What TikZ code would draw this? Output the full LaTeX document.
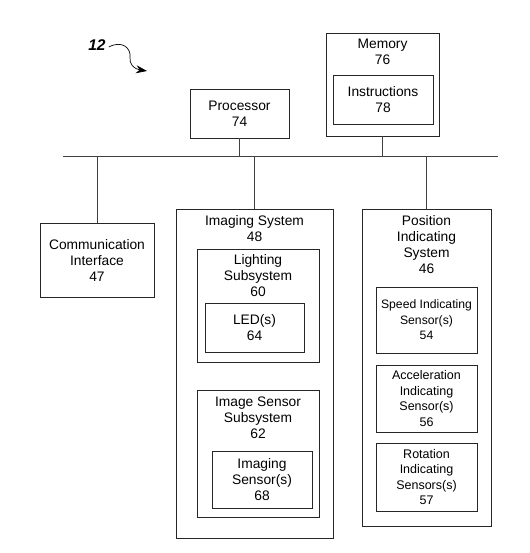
\documentclass[tikz,border=0pt]{standalone}
\usepackage{fontspec}
\setmainfont{Liberation Sans}
\usetikzlibrary{arrows.meta}
\begin{document}
\begin{tikzpicture}[x=1pt,y=-1pt,
  box/.style={draw=black!85,line width=0.8pt,rectangle,inner sep=0pt,align=center,
    font=\fontsize{13.8}{16}\selectfont},
  ttl/.style={inner sep=0pt,align=center,font=\fontsize{13.8}{16}\selectfont},
  sens/.style={font=\fontsize{12.5}{15.5}\selectfont},
  wire/.style={draw=black!75,line width=0.8pt}]
\useasboundingbox[fill=white] (0,0) rectangle (529,553);
% top
\node[inner sep=0pt,font=\fontsize{15.5}{16}\selectfont\bfseries\itshape] (n12) at (97,45) {12};
\coordinate (tip) at (147,71);
\draw[line width=0.7pt,-{Stealth[length=11pt,width=8pt]}] (n12.east) ++(3pt,-2pt) .. controls (122,40) and (131,48) .. (130,57) .. controls (129,64) and (134,69) .. (tip);
\node[box,minimum width=99pt,minimum height=49pt] (proc) at (239.5,113.5) {Processor\\74};
\node[box,minimum width=113pt,minimum height=103pt] (mem) at (382.5,84.5) {};
\node[ttl] (memt) at (382.5,52) {Memory\\76};
\node[box,minimum width=100pt,minimum height=49pt] (instr) at (383,99.5) {Instructions\\78};
% bus
\coordinate (busL) at (63,156);
\coordinate (busR) at (498,156);
\draw[wire] (busL) -- (busR);
\draw[wire] (proc.south) -- (proc.south |- busL);
\draw[wire] (mem.south) -- (mem.south |- busL);
% lower
\node[box,minimum width=114pt,minimum height=74pt] (comm) at (97,260) {Communication\\Interface\\47};
\node[box,minimum width=157pt,minimum height=329pt] (img) at (254.5,373.5) {};
\node[ttl] (imgt) at (254.5,229) {Imaging System\\48};
\node[box,minimum width=122pt,minimum height=113pt] (light) at (258,305.5) {};
\node[ttl] (lightt) at (258,276) {Lighting\\Subsystem\\60};
\node[box,minimum width=99pt,minimum height=49pt] (led) at (254.5,327.5) {LED(s)\\64};
\node[box,minimum width=122pt,minimum height=127pt] (iss) at (258,453.5) {};
\node[ttl] (isst) at (258,418) {Image Sensor\\Subsystem\\62};
\node[box,minimum width=100pt,minimum height=57pt] (isen) at (262,479.5) {Imaging\\Sensor(s)\\68};
\node[box,minimum width=129pt,minimum height=317pt] (pos) at (426.5,367.5) {};
\node[ttl] (post) at (426.5,245) {Position\\Indicating\\System\\46};
\node[box,sens,minimum width=101pt,minimum height=66pt,font=\fontsize{12.2}{15.5}\selectfont] (speed) at (426.5,320) {Speed Indicating\\Sensor(s)\\54};
\node[box,sens,minimum width=101pt,minimum height=67pt] (acc) at (426.5,398.5) {Acceleration\\Indicating\\Sensor(s)\\56};
\node[box,sens,minimum width=101pt,minimum height=68pt] (rot) at (426.5,477) {Rotation\\Indicating\\Sensors(s)\\57};
\draw[wire] (comm.north |- busL) -- (comm.north);
\draw[wire] (img.north |- busL) -- (img.north);
\draw[wire] (pos.north |- busL) -- (pos.north);
\end{tikzpicture}
\end{document}
